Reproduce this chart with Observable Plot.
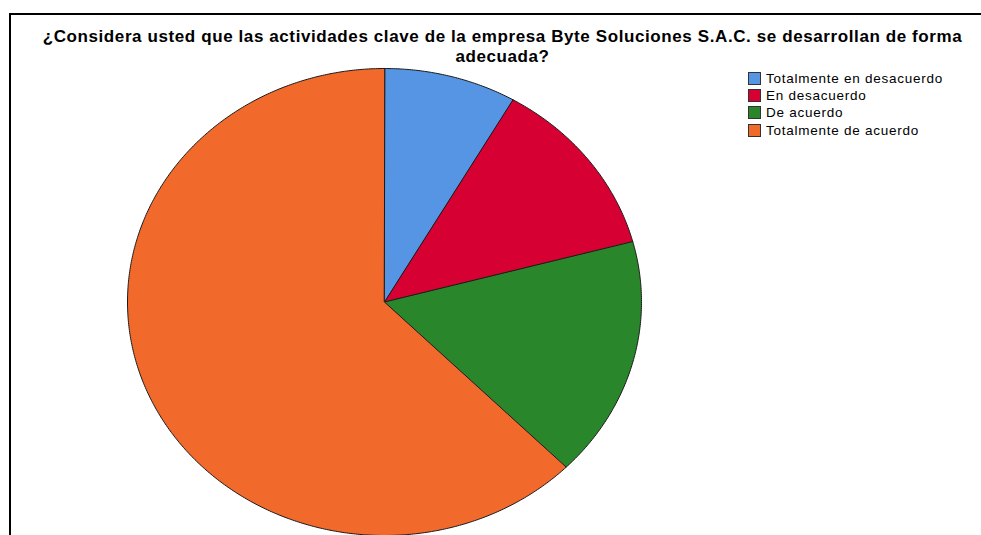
<!DOCTYPE html>
<html>
<head>
<meta charset="utf-8">
<script src="https://cdn.jsdelivr.net/npm/d3@7"></script>
<script src="https://cdn.jsdelivr.net/npm/@observablehq/plot@0.6"></script>
<style>
  html, body { margin: 0; padding: 0; background: #fff; overflow: hidden; }
  #frame { position: absolute; left: 9px; top: 13px; width: 1000px; height: 600px; border: 2px solid #000; box-sizing: border-box; }
  .title { position: absolute; left: 0; width: 1005px; height: 14px; overflow: visible; text-align: center; font-family: "Liberation Sans", Arial, sans-serif; font-weight: bold; font-size: 17px; letter-spacing: 0.6px; line-height: 14px; color: #000; white-space: nowrap; }
  #t1 { top: 30px; }
  #t2 { top: 50px; }
  #chart { position: absolute; left: 0; top: 0; }
  #legend { position: absolute; left: 748px; top: 70px; font-family: "Liberation Sans", Arial, sans-serif; font-size: 13.5px; letter-spacing: 0.75px; color: #000; }
  .row { height: 17.2px; display: flex; align-items: center; }
  .sw { width: 13px; height: 13px; border: 1px solid #333; margin-right: 5px; box-sizing: border-box; flex: none; }
</style>
</head>
<body>
<div id="frame"></div>
<div id="t1" class="title">¿Considera usted que las actividades clave de la empresa Byte Soluciones S.A.C. se desarrollan de forma</div>
<div id="t2" class="title">adecuada?</div>
<div id="chart"></div>
<div id="legend"></div>
<script>
const categories = ["Totalmente en desacuerdo", "En desacuerdo", "De acuerdo", "Totalmente de acuerdo"];
const counts = [2, 3, 4, 15];
const colors = ["#5595E3", "#D60032", "#2A862A", "#F2692C"];

const pie = d3.pie().sort(null).value(d => d)(counts);
const pts = [];
pie.forEach((a, i) => {
  const cat = categories[i];
  pts.push({cat, x: 0, y: 0});
  const n = Math.max(2, Math.ceil((a.endAngle - a.startAngle) / (Math.PI / 360)));
  for (let j = 0; j <= n; j++) {
    const t = a.startAngle + (a.endAngle - a.startAngle) * j / n;
    pts.push({cat, x: Math.sin(t), y: Math.cos(t)});
  }
});

const plot = Plot.plot({
  width: 981,
  height: 535,
  margin: 0,
  x: {domain: [-1, 1], range: [127, 641], axis: null},
  y: {domain: [-1, 1], range: [535, 68], axis: null},
  color: {domain: categories, range: colors},
  style: {background: "transparent", overflow: "visible"},
  marks: [
    Plot.line(pts, {x: "x", y: "y", z: "cat", fill: "cat", stroke: "#1a1a1a", strokeWidth: 1, curve: "linear-closed"})
  ]
});
document.getElementById("chart").appendChild(plot);

const legend = document.getElementById("legend");
categories.forEach((c, i) => {
  const r = document.createElement("div");
  r.className = "row";
  r.innerHTML = `<span class="sw" style="background:${colors[i]}"></span><span>${c}</span>`;
  legend.appendChild(r);
});
</script>
</body>
</html>
